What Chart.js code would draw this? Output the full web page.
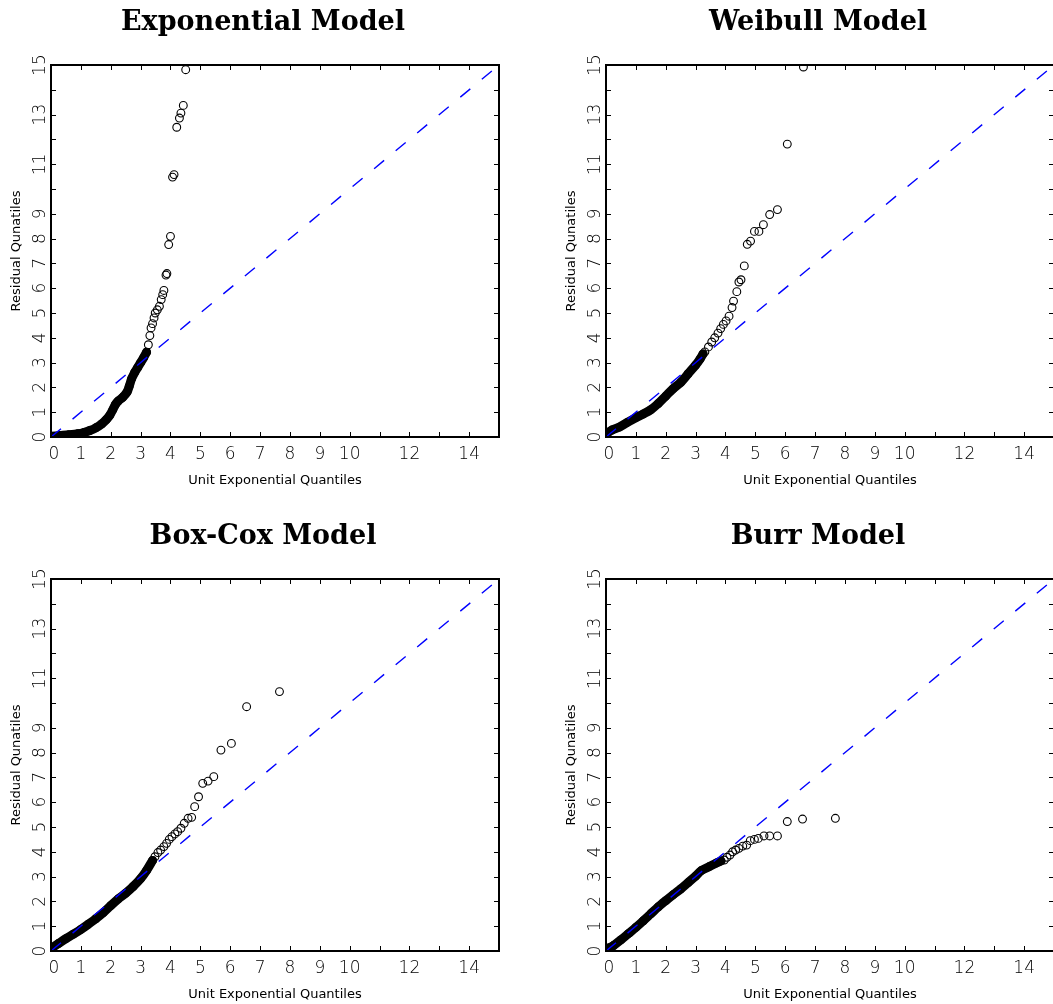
<!DOCTYPE html>
<html>
<head>
<meta charset="utf-8">
<script src="https://cdn.jsdelivr.net/npm/chart.js@4.4.1/dist/chart.umd.min.js"></script>
<style>
  html, body { margin: 0; padding: 0; background: #fff; overflow: hidden; }
  #wrap { position: relative; width: 1053px; height: 1004px; overflow: hidden; }
  .panel { position: absolute; width: 527px; height: 502px; }
</style>
</head>
<body>
<div id="wrap">
  <div class="panel" style="left:0;top:0"><canvas id="c0" width="527" height="502"></canvas></div>
  <div class="panel" style="left:555px;top:0"><canvas id="c1" width="527" height="502"></canvas></div>
  <div class="panel" style="left:0;top:514px"><canvas id="c2" width="527" height="502"></canvas></div>
  <div class="panel" style="left:555px;top:514px"><canvas id="c3" width="527" height="502"></canvas></div>
</div>
<script>
// panel titles and axis text
const panelTitles = ['Exponential Model', 'Weibull Model', 'Box-Cox Model', 'Burr Model'];
const xTitle = 'Unit Exponential Quantiles';
const yTitle = 'Residual Qunatiles';

// tick labels (ticks are drawn at every integer 0..15)
const xTickLabels = [0, 1, 2, 3, 4, 5, 6, 7, 8, 9, 10, 12, 14];
const yTickLabels = [0, 1, 2, 3, 4, 5, 6, 7, 8, 9, 11, 13, 15];
const tickValues = [0, 1, 2, 3, 4, 5, 6, 7, 8, 9, 10, 11, 12, 13, 14, 15];

// reference line y = x
const refX = [0, 15];
const refY = [0, 15];

// Exponential model: dense part of the QQ cloud, then the sparse tail
const expBandX = [0, 0.3, 0.6, 0.9, 1.1, 1.3, 1.5, 1.7, 1.85, 1.97, 2.07, 2.15, 2.25, 2.4, 2.55, 2.62, 2.7, 2.8, 2.9, 3.0, 3.1, 3.2];
const expBandY = [0.03, 0.06, 0.09, 0.13, 0.18, 0.26, 0.37, 0.53, 0.7, 0.88, 1.1, 1.3, 1.45, 1.6, 1.82, 2.05, 2.35, 2.6, 2.8, 3.0, 3.2, 3.42];
const expTailX = [3.26, 3.31, 3.35, 3.40, 3.45, 3.49, 3.56, 3.63, 3.69, 3.74, 3.78, 3.85, 3.88, 3.94, 4.0, 4.07, 4.12, 4.21, 4.30, 4.35, 4.43, 4.51];
const expTailY = [3.72, 4.09, 4.4, 4.57, 4.8, 5.0, 5.13, 5.27, 5.54, 5.74, 5.91, 6.53, 6.59, 7.76, 8.09, 10.48, 10.58, 12.49, 12.86, 13.06, 13.37, 14.81];

// Weibull model
const weiBandX = [0, 0.2, 0.45, 0.7, 1.0, 1.25, 1.5, 1.75, 2.0, 2.25, 2.5, 2.75, 3.0, 3.15, 3.25];
const weiBandY = [0.12, 0.28, 0.4, 0.58, 0.78, 0.93, 1.1, 1.35, 1.65, 1.95, 2.2, 2.55, 2.9, 3.15, 3.35];
const weiTailX = [3.31, 3.43, 3.54, 3.64, 3.75, 3.84, 3.93, 4.02, 4.12, 4.22, 4.27, 4.38, 4.45, 4.52, 4.63, 4.73, 4.84, 4.97, 5.12, 5.27, 5.48, 5.74, 6.07, 6.61];
const weiTailY = [3.43, 3.63, 3.83, 4.0, 4.19, 4.37, 4.54, 4.68, 4.87, 5.22, 5.48, 5.86, 6.25, 6.34, 6.9, 7.77, 7.9, 8.29, 8.29, 8.56, 8.97, 9.17, 11.81, 14.92];

// Box-Cox model
const boxBandX = [0, 0.25, 0.5, 0.75, 1.0, 1.25, 1.5, 1.75, 2.0, 2.25, 2.5, 2.75, 3.0, 3.2, 3.4];
const boxBandY = [0.1, 0.3, 0.5, 0.68, 0.87, 1.08, 1.3, 1.55, 1.83, 2.1, 2.33, 2.6, 2.92, 3.25, 3.65];
const boxTailX = [3.48, 3.58, 3.67, 3.78, 3.87, 3.96, 4.05, 4.15, 4.24, 4.35, 4.46, 4.59, 4.71, 4.81, 4.94, 5.08, 5.26, 5.45, 5.69, 6.04, 6.55, 7.65];
const boxTailY = [3.8, 3.97, 4.07, 4.21, 4.34, 4.5, 4.61, 4.72, 4.81, 4.95, 5.15, 5.35, 5.39, 5.82, 6.22, 6.76, 6.85, 7.03, 8.1, 8.37, 9.85, 10.46];

// Burr model
const burBandX = [0, 0.25, 0.5, 0.75, 1.0, 1.25, 1.5, 1.75, 2.0, 2.25, 2.5, 2.75, 3.0, 3.2, 3.45, 3.7, 3.85];
const burBandY = [0.08, 0.22, 0.45, 0.7, 0.95, 1.22, 1.5, 1.78, 2.03, 2.27, 2.5, 2.76, 3.02, 3.25, 3.4, 3.55, 3.63];
const burTailX = [3.96, 4.05, 4.15, 4.24, 4.34, 4.45, 4.58, 4.71, 4.83, 4.97, 5.10, 5.29, 5.48, 5.74, 6.07, 6.58, 7.68];
const burTailY = [3.67, 3.78, 3.87, 4.0, 4.07, 4.14, 4.23, 4.27, 4.45, 4.5, 4.54, 4.64, 4.64, 4.64, 5.22, 5.32, 5.35];

const panels = [
  { bx: expBandX, by: expBandY, tx: expTailX, ty: expTailY },
  { bx: weiBandX, by: weiBandY, tx: weiTailX, ty: weiTailY },
  { bx: boxBandX, by: boxBandY, tx: boxTailX, ty: boxTailY },
  { bx: burBandX, by: burBandY, tx: burTailX, ty: burTailY }
];

const toXY = (xs, ys) => xs.map((v, i) => ({ x: v, y: ys[i] }));

const TICK_FONT = '200 17px "DejaVu Sans"';
const LABEL_FONT = '13px "DejaVu Sans"';
const TITLE_FONT = 'bold 27px "DejaVu Serif"';

// frame, inward ticks, tick labels, axis titles and the panel title
const frameAndText = {
  id: 'frameAndText',
  afterDraw(chart, args, opts) {
    const { ctx, chartArea: a, scales: { x, y } } = chart;
    ctx.save();
    ctx.strokeStyle = '#000';
    ctx.fillStyle = '#000';

    // inward tick marks on all four sides
    ctx.lineWidth = 1;
    ctx.beginPath();
    tickValues.forEach(v => {
      const px = Math.round(x.getPixelForValue(v)) + 0.5;
      ctx.moveTo(px, a.bottom); ctx.lineTo(px, a.bottom - 5);
      ctx.moveTo(px, a.top); ctx.lineTo(px, a.top + 5);
      const py = Math.round(y.getPixelForValue(v)) + 0.5;
      ctx.moveTo(a.left, py); ctx.lineTo(a.left + 5, py);
      ctx.moveTo(a.right, py); ctx.lineTo(a.right - 5, py);
    });
    ctx.stroke();

    // box
    ctx.lineWidth = 2;
    ctx.strokeRect(a.left, a.top, a.right - a.left, a.bottom - a.top);

    // x tick labels
    ctx.font = TICK_FONT;
    ctx.textAlign = 'center';
    ctx.textBaseline = 'alphabetic';
    xTickLabels.forEach(v => {
      ctx.fillText(String(v), x.getPixelForValue(v) + (v === 0 ? 3 : 0), a.bottom + 22);
    });

    // y tick labels, rotated to read upwards
    yTickLabels.forEach(v => {
      ctx.save();
      ctx.translate(a.left - 6, y.getPixelForValue(v));
      ctx.rotate(-Math.PI / 2);
      ctx.fillText(String(v), 0, 0);
      ctx.restore();
    });

    // axis titles
    ctx.font = LABEL_FONT;
    ctx.fillText(xTitle, (a.left + a.right) / 2, a.bottom + 47);
    ctx.save();
    ctx.translate(a.left - 31, (a.top + a.bottom) / 2);
    ctx.rotate(-Math.PI / 2);
    ctx.fillText(yTitle, 0, 0);
    ctx.restore();

    // panel title
    ctx.font = TITLE_FONT;
    ctx.fillText(opts.text, 263, 30);
    ctx.restore();
  }
};

panels.forEach((p, i) => {
  const ctx = document.getElementById('c' + i).getContext('2d');
  new Chart(ctx, {
    type: 'scatter',
    data: {
      datasets: [
        {
          // y = x reference, drawn on top
          data: toXY(refX, refY),
          showLine: true,
          borderColor: '#0000ff',
          borderWidth: 1.4,
          borderDash: [13, 15],
          pointRadius: 0,
          clip: 0
        },
        {
          // open circles
          data: toXY(p.bx, p.by).concat(toXY(p.tx, p.ty)),
          showLine: false,
          pointStyle: 'circle',
          pointRadius: 3.9,
          pointBorderWidth: 1.1,
          pointBorderColor: '#000',
          pointBackgroundColor: 'rgba(0,0,0,0)',
          clip: 0
        },
        {
          // dense overlapping circles read as a solid band
          data: toXY(p.bx, p.by),
          showLine: true,
          borderColor: '#000',
          borderWidth: 9,
          borderCapStyle: 'round',
          borderJoinStyle: 'round',
          tension: 0.3,
          pointRadius: 0,
          clip: 0
        }
      ]
    },
    options: {
      responsive: false,
      animation: false,
      devicePixelRatio: 1,
      layout: { padding: { left: 51, top: 65, right: 28, bottom: 65 } },
      scales: {
        x: { type: 'linear', min: 0, max: 15, display: false },
        y: { type: 'linear', min: 0, max: 15, display: false }
      },
      plugins: {
        legend: { display: false },
        tooltip: { enabled: false },
        frameAndText: { text: panelTitles[i] }
      }
    },
    plugins: [frameAndText]
  });
});
</script>
</body>
</html>
